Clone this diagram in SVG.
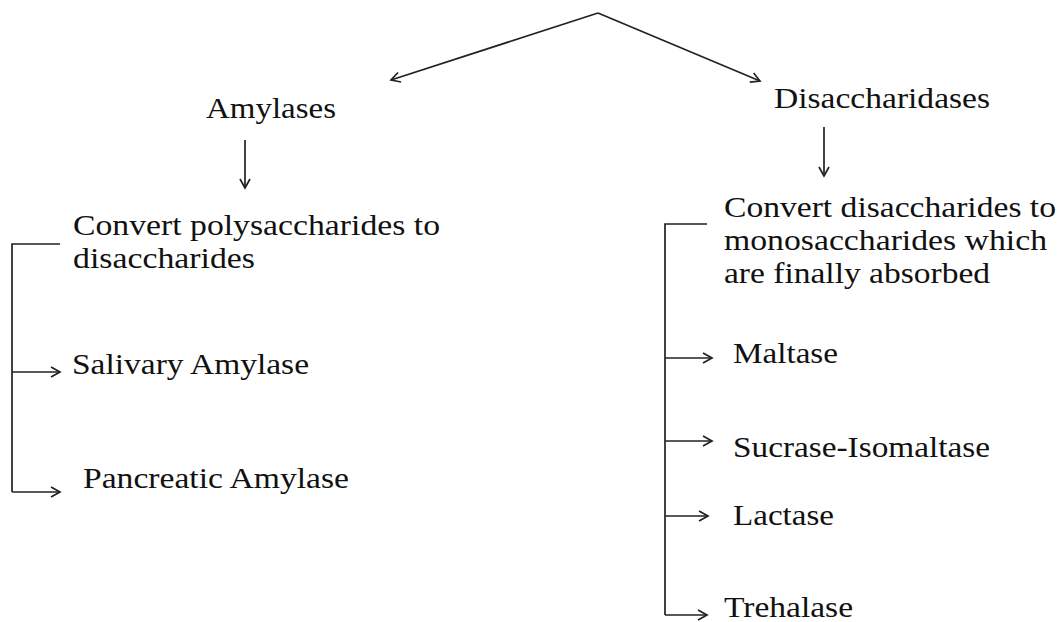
<svg xmlns="http://www.w3.org/2000/svg" width="1061" height="622" viewBox="0 0 1061 622">
<defs>
<marker id="arr" markerUnits="userSpaceOnUse" markerWidth="14" markerHeight="14" refX="10" refY="6" orient="auto">
<path d="M1,1 L10,6 L1,11" fill="none" stroke="#222" stroke-width="1.7"/>
</marker>
<style>
.t{font-family:"Liberation Serif","Times New Roman",serif;font-size:29.5px;fill:#111;}
.c{fill:none;stroke:#222;stroke-width:1.7;}
.a{fill:none;stroke:#222;stroke-width:1.7;marker-end:url(#arr);}
</style>
</defs>
<rect width="1061" height="622" fill="#fff"/>
<g id="connectors">
<path class="a" d="M598,13 L391,80"/>
<path class="a" d="M598,13 L760,81"/>
<path class="a" d="M245,140 L245,188"/>
<path class="a" d="M824,127 L824,176"/>
<path class="c" d="M60,244 L12,244 L12,492"/>
<path class="a" d="M12,372 L60,372"/>
<path class="a" d="M12,492 L60,492"/>
<path class="c" d="M707,224 L665,224 L665,615"/>
<path class="a" d="M665,358 L712,358"/>
<path class="a" d="M665,441 L712,441"/>
<path class="a" d="M665,516 L708,516"/>
<path class="a" d="M665,615 L707,615"/>
</g>
<g id="amylases"><text class="t" x="206" y="118" textLength="130" lengthAdjust="spacingAndGlyphs">Amylases</text></g>
<g id="disaccharidases"><text class="t" x="774" y="108" textLength="216" lengthAdjust="spacingAndGlyphs">Disaccharidases</text></g>
<g id="convert-poly">
<text class="t" x="73" y="235" textLength="367" lengthAdjust="spacingAndGlyphs">Convert polysaccharides to</text>
<text class="t" x="73" y="268" textLength="182" lengthAdjust="spacingAndGlyphs">disaccharides</text>
</g>
<g id="salivary"><text class="t" x="72" y="374" textLength="237" lengthAdjust="spacingAndGlyphs">Salivary Amylase</text></g>
<g id="pancreatic"><text class="t" x="83" y="488" textLength="266" lengthAdjust="spacingAndGlyphs">Pancreatic Amylase</text></g>
<g id="convert-di">
<text class="t" x="724" y="217" textLength="332" lengthAdjust="spacingAndGlyphs">Convert disaccharides to</text>
<text class="t" x="724" y="250" textLength="323" lengthAdjust="spacingAndGlyphs">monosaccharides which</text>
<text class="t" x="724" y="283" textLength="266" lengthAdjust="spacingAndGlyphs">are finally absorbed</text>
</g>
<g id="maltase"><text class="t" x="733" y="363" textLength="105" lengthAdjust="spacingAndGlyphs">Maltase</text></g>
<g id="sucrase"><text class="t" x="733" y="457" textLength="257" lengthAdjust="spacingAndGlyphs">Sucrase-Isomaltase</text></g>
<g id="lactase"><text class="t" x="733" y="525" textLength="101" lengthAdjust="spacingAndGlyphs">Lactase</text></g>
<g id="trehalase"><text class="t" x="724" y="617" textLength="129" lengthAdjust="spacingAndGlyphs">Trehalase</text></g>
</svg>
